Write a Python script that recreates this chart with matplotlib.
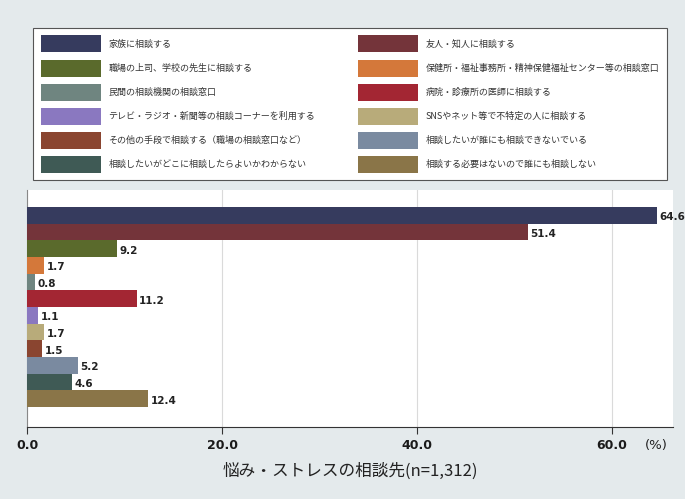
import matplotlib
matplotlib.use('Agg')
import matplotlib.pyplot as plt
from matplotlib.patches import Patch

plt.rcParams['font.family'] = ['Noto Sans CJK JP', 'DejaVu Sans']

labels = ['家族に相談する',
          '友人・知人に相談する',
          '職場の上司、学校の先生に相談する',
          '保健所・福祉事務所・精神保健福祉センター等の相談窓口',
          '民間の相談機関の相談窓口',
          '病院・診療所の医師に相談する',
          'テレビ・ラジオ・新聞等の相談コーナーを利用する',
          'SNSやネット等で不特定の人に相談する',
          'その他の手段で相談する（職場の相談窓口など）',
          '相談したいが誰にも相談できないでいる',
          '相談したいがどこに相談したらよいかわからない',
          '相談する必要はないので誰にも相談しない']
values = [64.6, 51.4, 9.2, 1.7, 0.8, 11.2, 1.1, 1.7, 1.5, 5.2, 4.6, 12.4]
colors = ['#363b5e', '#74343a', '#5a6a2c', '#d4783a', '#6f8580', '#a32633',
          '#8a78c0', '#b8ab7a', '#8a4530', '#7a8aa0', '#3f5a55', '#8a7548']
xticks = [0, 20, 40, 60]

fig = plt.figure(figsize=(6.85, 4.99), dpi=100)
fig.patch.set_facecolor('#e4eaec')

ax = fig.add_axes([0.0401, 0.1443, 0.9423, 0.4749])
ax.set_facecolor('white')
ypos = list(range(len(values)))
ax.barh(ypos, values, height=1.0, color=colors, edgecolor='none', zorder=3)
for y, v in zip(ypos, values):
    ax.text(v + 0.25, y + 0.12, f'{v:.1f}', va='center', ha='left', fontsize=7.5,
            color='#222222', family='DejaVu Sans', fontweight='semibold',
            zorder=4, clip_on=False)

ax.set_xlim(0, 66.26)
ax.set_ylim(11.5 + 1.2, -0.5 - 1.02)
ax.set_yticks([])
ax.set_xticks(xticks)
ax.set_xticklabels([f'{t:.1f}' for t in xticks], fontsize=9, color='#1a1a1a',
                   family='DejaVu Sans', fontweight='semibold')
ax.tick_params(axis='x', direction='out', length=5, width=0.8, pad=4,
               color='#333333')
ax.grid(axis='x', color='#dadada', linewidth=0.8, zorder=0)
for s in ['top', 'right']:
    ax.spines[s].set_visible(False)
ax.spines['left'].set_color('#888888')
ax.spines['bottom'].set_color('#333333')
ax.text(64.6, -0.078, '(%)', transform=ax.get_xaxis_transform(), fontsize=9.5,
        color='#222222', ha='center', va='center', family='DejaVu Sans')
ax.set_xlabel('悩み・ストレスの相談先(n=1,312)', fontsize=12, color='#222222',
              labelpad=7)

handles = [Patch(facecolor=c, edgecolor='none') for c in colors]
order = [0, 2, 4, 6, 8, 10, 1, 3, 5, 7, 9, 11]
leg = fig.legend([handles[i] for i in order], [labels[i] for i in order],
                 ncol=2, loc='upper left',
                 bbox_to_anchor=(0.0482, 0.6393, 0.9255, 0.3046),
                 mode='expand', fontsize=6.5, handlelength=6.65, handleheight=2.52,
                 labelspacing=0.78, handletextpad=0.89, columnspacing=0.5,
                 borderaxespad=0, borderpad=0.83, frameon=True, fancybox=False,
                 framealpha=1.0, facecolor='white')
leg.get_frame().set_edgecolor('#555555')
leg.get_frame().set_linewidth(0.8)
for t in leg.get_texts():
    t.set_color('#333333')

fig.savefig('out.png', dpi=100, facecolor=fig.get_facecolor())
